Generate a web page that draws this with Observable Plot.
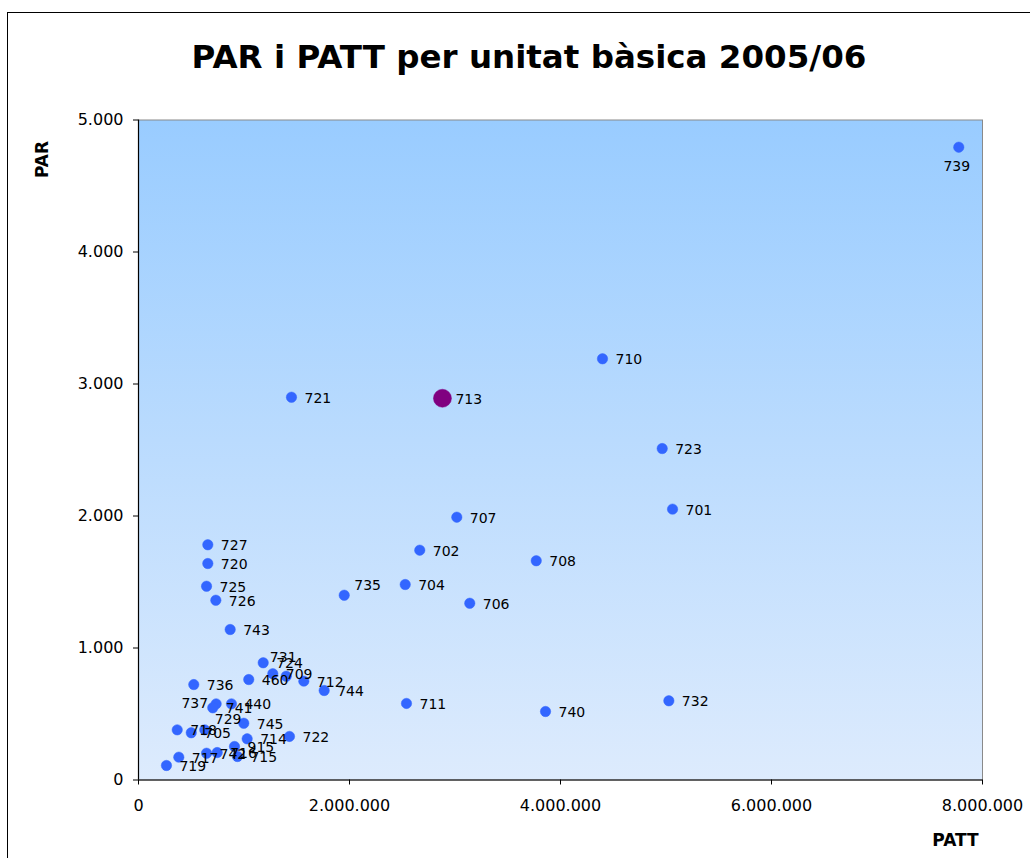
<!DOCTYPE html>
<html>
<head>
<meta charset="utf-8">
<script src="https://cdn.jsdelivr.net/npm/d3@7"></script>
<script src="https://cdn.jsdelivr.net/npm/@observablehq/plot@0.6"></script>
<style>
  html, body { margin: 0; padding: 0; background: #fff; }
  body { position: relative; width: 1030px; height: 858px; overflow: hidden; font-family: "DejaVu Sans", Verdana, sans-serif; }
  #frame { position: absolute; left: 7px; top: 12px; width: 1100px; height: 900px; border: 1.5px solid #000; box-sizing: border-box; }
  #title { position: absolute; top: 39px; left: 14px; width: 1030px; text-align: center; font-size: 32.5px; line-height: 36px; font-weight: bold; color: #000; }
  #chart { position: absolute; top: 100px; left: 0; }
</style>
</head>
<body>
<div id="frame"></div>
<div id="title">PAR i PATT per unitat bàsica 2005/06</div>
<div id="chart"></div>
<script>
// Unitats bàsiques (labels)
const ubs = ["739","710","721","713","723","701","707","702","708","727","720","725","726","735","704","706","743","711","740","732","722","724","709","731","712","744","460","736","737","741","440","745","718","705","729","714","915","717","742","716","715","719"];
// PATT (x)
const patt = [7775000,4398000,1450000,2881000,4964000,5062000,3017000,2666000,3770000,657000,657000,645000,733000,1950000,2528000,3140000,869000,2540000,3858000,5027000,1431000,1182000,1273000,1400000,1567000,1760000,1045000,524000,736000,704000,881000,998000,367000,500000,628000,1030000,910000,382000,645000,746000,938000,265000];
// PAR (y)
const par = [4794,3191,2900,2892,2511,2052,1991,1741,1661,1782,1640,1468,1362,1400,1481,1339,1140,580,519,600,330,888,805,786,749,678,761,723,577,547,577,430,380,358,380,312,254,173,203,208,178,110];
// highlighted unit
const highlighted = "713";
// axis ticks
const xTicks = [0, 2000000, 4000000, 6000000, 8000000];
const yTicks = [0, 1000, 2000, 3000, 4000, 5000];

const data = ubs.map((u, i) => ({ub: u, patt: patt[i], par: par[i]}));

// label placement (style only)
const placement = {"739": "below", "737": "left", "735": "above-right", "729": "above-right", "731": "above"};
const place = d => placement[d.ub] || "right";

const loc = d3.formatLocale({decimal: ",", thousands: ".", grouping: [3], currency: ["", "€"]});
const fmt = loc.format(",d");

const labelStyle = {x: "patt", y: "par", text: "ub", fontSize: 14, fill: "#000", fontFamily: "DejaVu Sans"};

const chart = Plot.plot({
  width: 1030,
  height: 758,
  marginLeft: 138,
  marginRight: 48,
  marginTop: 19.5,
  marginBottom: 78.5,
  x: {domain: [0, 8000000]},
  y: {domain: [0, 5000]},
  style: {fontFamily: "DejaVu Sans", fontSize: "16px", background: "transparent", color: "#000", overflow: "visible"},
  marks: [
    Plot.frame({fill: "url(#bgGrad)", stroke: "#8a8a8a"}),
    Plot.axisX({ticks: xTicks, tickFormat: fmt, tickSize: 5, tickPadding: 15, label: null, fontSize: 16}),
    Plot.axisY({ticks: yTicks, tickFormat: fmt, tickSize: 5, tickPadding: 10, label: null, fontSize: 16}),
    Plot.ruleX([0], {stroke: "#000", strokeWidth: 1.2}),
    Plot.ruleY([0], {stroke: "#000", strokeWidth: 1.2}),
    Plot.dot(data.filter(d => d.ub !== highlighted), {x: "patt", y: "par", r: 5.2, fill: "#3366ff", stroke: "#3366ff", strokeWidth: 0.5}),
    Plot.dot(data.filter(d => d.ub === highlighted), {x: "patt", y: "par", r: 9, fill: "#800080", stroke: "#800080", strokeWidth: 0.5}),
    Plot.text(data.filter(d => place(d) === "right"), {...labelStyle, textAnchor: "start", dx: 13, dy: 1}),
    Plot.text(data.filter(d => place(d) === "left"), {...labelStyle, textAnchor: "end", dx: -8, dy: 0}),
    Plot.text(data.filter(d => place(d) === "above-right"), {...labelStyle, textAnchor: "start", dx: 10, dy: -10}),
    Plot.text(data.filter(d => place(d) === "above"), {...labelStyle, textAnchor: "middle", dx: -3, dy: -19}),
    Plot.text(data.filter(d => place(d) === "below"), {...labelStyle, textAnchor: "middle", dx: -2, dy: 19}),
    Plot.text(["PAR"], {frameAnchor: "top-left", dx: -103, dy: 39.5, rotate: -90, textAnchor: "middle", fontWeight: "bold", fontSize: 17}),
    Plot.text(["PATT"], {frameAnchor: "bottom-right", dx: -27, dy: 65.5, textAnchor: "middle", fontWeight: "bold", fontSize: 17})
  ]
});

const defs = d3.select(chart).insert("defs", ":first-child");
const grad = defs.append("linearGradient").attr("id", "bgGrad").attr("x1", 0).attr("y1", 0).attr("x2", 0).attr("y2", 1);
grad.append("stop").attr("offset", "0%").attr("stop-color", "#99ccff");
grad.append("stop").attr("offset", "100%").attr("stop-color", "#ddebfd");

document.getElementById("chart").appendChild(chart);
</script>
</body>
</html>
